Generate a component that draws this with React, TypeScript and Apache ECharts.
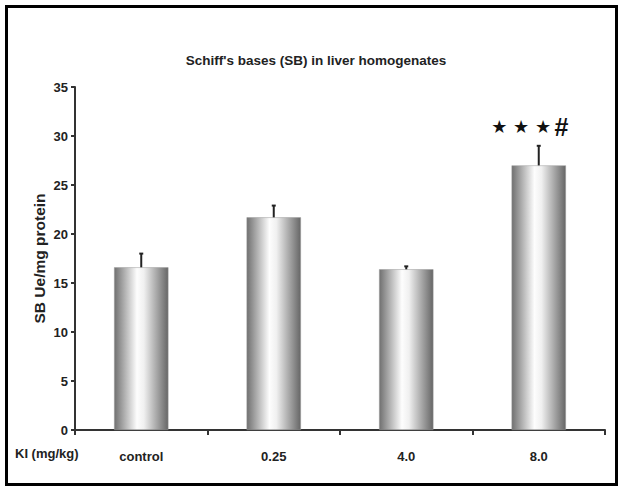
import React, { useEffect, useRef } from "react";
import * as echarts from "echarts";

const categories = ["control", "0.25", "4.0", "8.0"];
const means = [16.6, 21.7, 16.4, 27.0];
const errors = [1.4, 1.2, 0.3, 2.0];
const significance = ["", "", "", "★★★#"];
const yTicks = { min: 0, max: 35, interval: 5 };
const titleText = "Schiff's bases (SB) in liver homogenates";
const yName = "SB Ue/mg protein";
const xName = "KI (mg/kg)";

const FONT = "'Liberation Sans', Arial, sans-serif";

export default function App() {
  const ref = useRef<HTMLDivElement>(null);
  useEffect(() => {
    const chart = echarts.init(ref.current!, null, { renderer: "svg" });
    const barGradient = new echarts.graphic.LinearGradient(0, 0, 1, 0, [
      { offset: 0, color: "#707070" },
      { offset: 0.42, color: "#fdfdfd" },
      { offset: 0.55, color: "#f0f0f0" },
      { offset: 1, color: "#666666" },
    ]);
    chart.setOption({
      animation: false,
      backgroundColor: "#ffffff",
      title: {
        text: titleText,
        left: 311,
        textAlign: "center",
        top: 48,
        textStyle: { fontFamily: FONT, fontWeight: "bold", fontSize: 13.5, color: "#222" },
      },
      grid: { left: 75, right: 17, top: 87, bottom: 57, containLabel: false },
      xAxis: {
        type: "category",
        data: categories,
        boundaryGap: true,
        axisLine: { lineStyle: { color: "#333", width: 2 } },
        axisTick: { show: true, length: 5, lineStyle: { color: "#333", width: 2 } },
        axisLabel: {
          fontFamily: FONT, fontWeight: "bold", fontSize: 13, color: "#222", margin: 20,
        },
      },
      yAxis: {
        type: "value",
        min: yTicks.min,
        max: yTicks.max,
        interval: yTicks.interval,
        name: yName,
        nameLocation: "middle",
        nameGap: 28,
        nameMoveOverlap: false,
        nameRotate: 90,
        nameTextStyle: { fontFamily: FONT, fontWeight: "bold", fontSize: 15.5, color: "#222" },
        axisLine: { show: true, lineStyle: { color: "#333", width: 2 } },
        axisTick: { show: true, length: 4, lineStyle: { color: "#333", width: 2 } },
        splitLine: { show: false },
        axisLabel: { fontFamily: FONT, fontWeight: "bold", fontSize: 13, color: "#222", margin: 7 },
      },
      series: [
        {
          type: "bar",
          barWidth: "41%",
          data: means.map((v, i) => ({
            value: v,
            label: significance[i]
              ? {
                  show: true,
                  position: "top",
                  distance: 26,
                  offset: [-9, 0],
                  formatter: "{s|★ ★ ★} {h|#}",
                  rich: {
                    s: { fontSize: 18, color: "#111", fontFamily: "'DejaVu Sans', sans-serif" },
                    h: { fontSize: 25, fontWeight: "bold", color: "#111", fontFamily: FONT },
                  },
                }
              : { show: false },
          })),
          itemStyle: { color: barGradient, borderColor: "#9a9a9a", borderWidth: 0.5 },
          z: 2,
        },
        {
          type: "custom",
          data: means.map((v, i) => [i, v, errors[i]]),
          z: 3,
          renderItem: (params: any, api: any) => {
            const i = api.value(0);
            const m = api.value(1);
            const e = api.value(2);
            const p0 = api.coord([i, m]);
            const p1 = api.coord([i, m + e]);
            return {
              type: "group",
              children: [
                {
                  type: "line",
                  shape: { x1: p0[0], y1: p0[1], x2: p1[0], y2: p1[1] },
                  style: { stroke: "#222", lineWidth: 2 },
                },
                {
                  type: "line",
                  shape: { x1: p1[0] - 2, y1: p1[1], x2: p1[0] + 2, y2: p1[1] },
                  style: { stroke: "#222", lineWidth: 2 },
                },
              ],
            };
          },
        },
      ],
      graphic: [
        {
          type: "rect",
          shape: { x: 6.5, y: 6.5, width: 610, height: 478 },
          style: { fill: "none", stroke: "#000", lineWidth: 3 },
        },
        {
          type: "text",
          left: 15,
          top: 447,
          style: {
            text: xName,
            fontFamily: FONT,
            fontWeight: "bold",
            fontSize: 13,
            fill: "#222",
          },
        },
      ],
    });
    return () => chart.dispose();
  }, []);
  return (
    <div
      ref={ref}
      style={{ position: "absolute", left: 0, top: 0, width: 622, height: 487 }}
    />
  );
}
